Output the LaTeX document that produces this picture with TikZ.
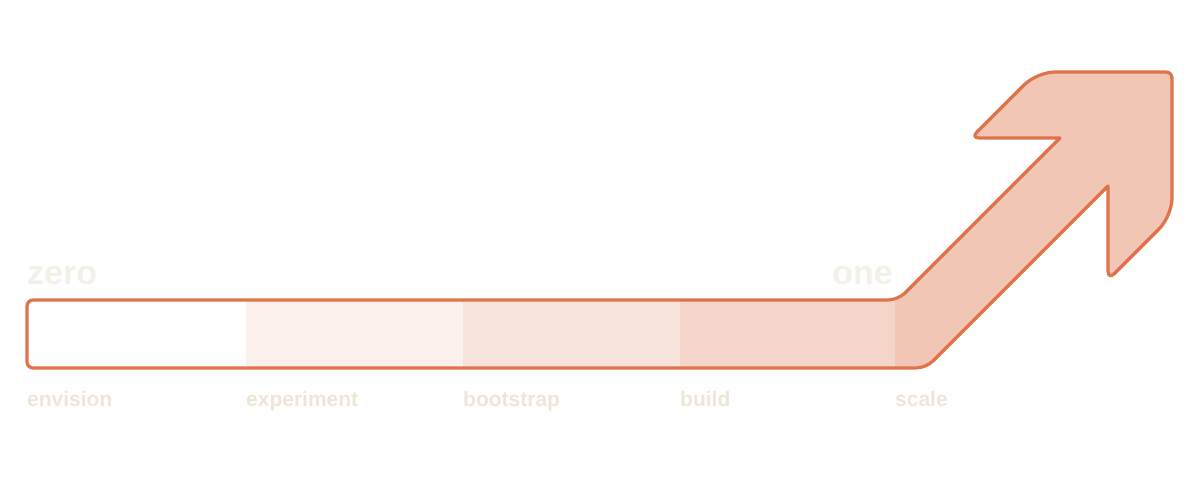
\documentclass[tikz,border=0pt]{standalone}
\usepackage{fontspec}
\setmainfont{Liberation Sans}
\usepackage{tikz}

\definecolor{barline}{RGB}{224,115,74}
\definecolor{stageB}{RGB}{251,240,235}
\definecolor{stageC}{RGB}{246,227,218}
\definecolor{stageD}{RGB}{243,213,201}
\definecolor{stageE}{RGB}{241,198,181}
\definecolor{endtext}{RGB}{243,240,231}
\definecolor{stagetext}{RGB}{238,231,215}

\newcommand{\arrowoutline}{(27,334) [rounded corners=6pt] -- (27,300)
    [rounded corners=10pt] -- (898,300) [sharp corners] -- (1060,138)
    [rounded corners=8pt] -- (971,138) [rounded corners=18pt] -- (1037,72)
    [rounded corners=6pt] -- (1172,72) [rounded corners=18pt] -- (1172,216)
    [rounded corners=9pt] -- (1108,280) [sharp corners] -- (1108,186)
    [rounded corners=10pt] -- (926,368) [rounded corners=6pt] -- (27,368)
    [sharp corners] -- cycle}

\begin{document}
\begin{tikzpicture}[x=1pt, y=-1pt,
endlabel/.style={font=\fontsize{34}{34}\selectfont\bfseries, text=endtext, inner sep=0pt},
stagelabel/.style={font=\fontsize{21}{21}\selectfont\bfseries, text=stagetext, anchor=base west, inner sep=0pt}
]
    \useasboundingbox (0,0) rectangle (1200,481);

    %Shape
    \fill[stageE] \arrowoutline;
    \fill[white]  (27,300) rectangle (246,368);
    \fill[stageB] (246,300) rectangle (463,368);
    \fill[stageC] (463,300) rectangle (680,368);
    \fill[stageD] (680,300) rectangle (895,368);
    \draw[barline, line width=3.2pt, line join=round] \arrowoutline;

    %Ends
    \node[endlabel, anchor=base west] (zero) at (27,284) {zero};
    \node[endlabel, anchor=base east] (one)  at (893,285) {one};

    %Stages
    \node[stagelabel] (envision)   at (27,406)  {envision};
    \node[stagelabel] (experiment) at (246,406) {experiment};
    \node[stagelabel] (bootstrap)  at (463,406) {bootstrap};
    \node[stagelabel] (build)      at (680,406) {build};
    \node[stagelabel] (scale)      at (895,406) {scale};
\end{tikzpicture}
\end{document}
